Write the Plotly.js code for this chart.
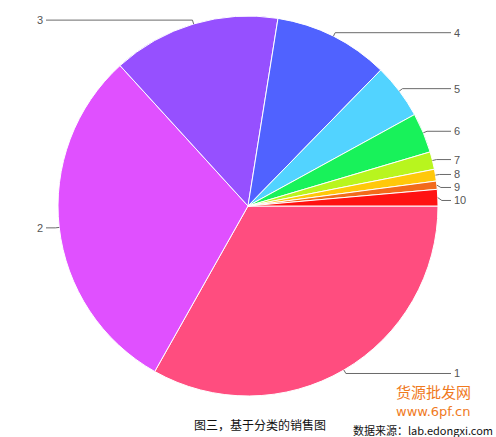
<!DOCTYPE html>
<html>
<head>
<meta charset="utf-8">
<script src="https://cdn.plot.ly/plotly-3.0.1.min.js"></script>
<style>
  html, body { margin: 0; padding: 0; background: #fff; }
  #chart { width: 496px; height: 437px; }
</style>
</head>
<body>
<div id="chart"></div>
<script>
// slice labels, shares and colours
const LABELS = ["1", "2", "3", "4", "5", "6", "7", "8", "9", "10"];
const VALUES = [33.2, 30.1, 14.3, 9.8, 4.7, 3.4, 1.5, 1.0, 0.7, 1.4];
const COLORS = ["#FF4D7F", "#E050FF", "#9650FF", "#5062FF", "#52D3FF",
                "#18F25A", "#B8F51E", "#FFC80A", "#F26A1B", "#FF1212"];
const CAPTION = "图三，基于分类的销售图";
const SOURCE = "数据来源：lab.edongxi.com";

(function () {
  const W = 496, H = 437;
  const M = { l: 58, r: 58, t: 16, b: 41 };
  const pw = W - M.l - M.r, ph = H - M.t - M.b;
  const R = Math.min(pw, ph) / 2;
  const cx = M.l + pw / 2, cy = M.t + ph / 2;
  const LINE = "#6a6a6a";

  // pixel -> paper
  const px = (x) => (x - M.l) / pw;
  const py = (y) => (H - M.b - y) / ph;

  // mid angle of each slice, clockwise from 3 o'clock (screen coords)
  const total = VALUES.reduce((a, b) => a + b, 0);
  let cum = 0;
  const items = VALUES.map((v, i) => {
    const a = (cum + v / 2) / total * 2 * Math.PI;
    cum += v;
    const ex = cx + R * Math.cos(a), ey = cy + R * Math.sin(a);
    const ox = cx + (R + 4) * Math.cos(a), oy = cy + (R + 4) * Math.sin(a);
    return { i, a, ex, ey, ox, oy, right: Math.cos(a) >= 0, ly: oy };
  });

  // keep labels on each side from overlapping (top to bottom)
  [true, false].forEach((side) => {
    const grp = items.filter((d) => d.right === side).sort((p, q) => p.oy - q.oy);
    for (let k = 1; k < grp.length; k++) {
      if (grp[k].ly < grp[k - 1].ly + 13) grp[k].ly = grp[k - 1].ly + 13;
    }
  });

  const shapes = [], annotations = [];
  items.forEach((d) => {
    const endX = d.right ? 451 : 46;
    shapes.push({
      type: "path", xref: "paper", yref: "paper",
      path: `M${px(d.ex)},${py(d.ey)} L${px(d.ox)},${py(d.ly)} L${px(endX)},${py(d.ly)}`,
      line: { color: LINE, width: 1 },
    });
    annotations.push({
      xref: "paper", yref: "paper", showarrow: false,
      x: px(d.right ? 453 : 44), y: py(d.ly),
      xanchor: d.right ? "left" : "right", yanchor: "middle",
      text: LABELS[d.i], borderpad: 0,
      font: { family: "Liberation Sans, Arial, sans-serif", size: 11, color: "#555" },
    });
  });

  annotations.push({
    xref: "paper", yref: "paper", showarrow: false,
    x: px(260), y: py(424), xanchor: "center", yanchor: "middle",
    text: CAPTION,
    font: { family: "Noto Sans CJK SC, sans-serif", size: 12, color: "#111" },
  });
  annotations.push({
    xref: "paper", yref: "paper", showarrow: false,
    x: px(494), y: py(430), xanchor: "right", yanchor: "middle",
    text: SOURCE, borderpad: 0,
    font: { family: "Noto Sans CJK SC, sans-serif", size: 11, color: "#111" },
  });
  // watermark
  annotations.push({
    xref: "paper", yref: "paper", showarrow: false,
    x: px(433), y: py(391), xanchor: "center", yanchor: "middle",
    text: "货源批发网", borderpad: 0,
    font: { family: "Noto Sans CJK SC, sans-serif", size: 15, color: "#F07A1E" },
  });
  annotations.push({
    xref: "paper", yref: "paper", showarrow: false,
    x: px(433), y: py(411), xanchor: "center", yanchor: "middle",
    text: "www.6pf.cn", borderpad: 0,
    font: { family: "DejaVu Sans, sans-serif", size: 13, color: "#F07A1E" },
  });

  const trace = {
    type: "pie",
    labels: LABELS, values: VALUES,
    sort: false, direction: "clockwise", rotation: 90,
    textinfo: "none", hoverinfo: "label+percent",
    marker: { colors: COLORS, line: { color: "#ffffff", width: 1 } },
    domain: { x: [0, 1], y: [0, 1] },
    showlegend: false,
  };

  const layout = {
    width: W, height: H,
    margin: M,
    paper_bgcolor: "#ffffff",
    plot_bgcolor: "#ffffff",
    showlegend: false,
    shapes, annotations,
  };
  Plotly.newPlot("chart", [trace], layout, { displayModeBar: false, staticPlot: true });
})();
</script>
</body>
</html>
